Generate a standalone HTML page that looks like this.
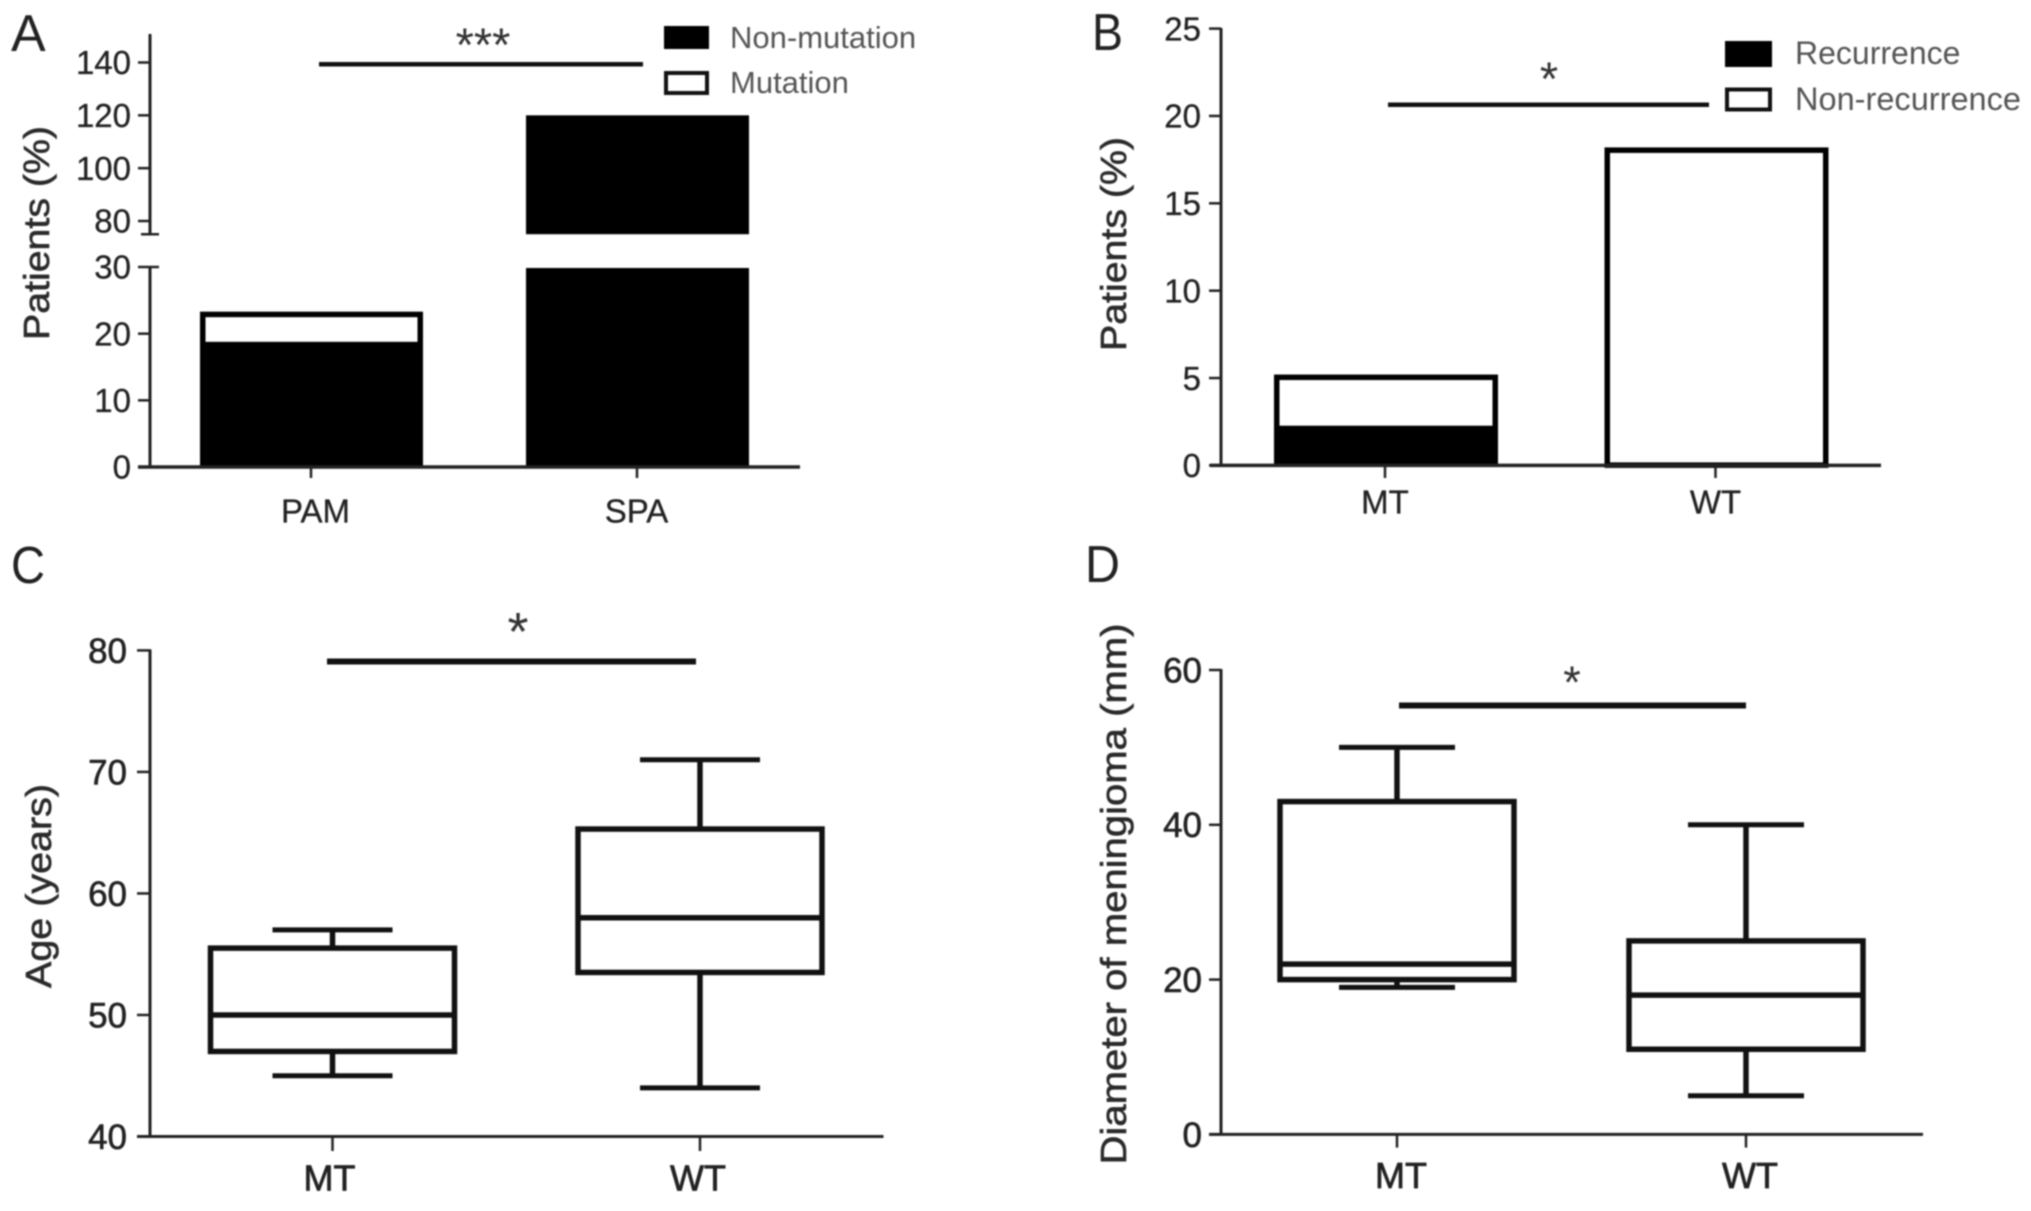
<!DOCTYPE html>
<html lang="en">
<head>
<meta charset="utf-8">
<title>Mutation charts</title>
<style>
html,body{margin:0;padding:0;background:#fff;width:2031px;height:1211px;overflow:hidden}
svg{display:block;filter:blur(0.8px)}
text{font-family:"Liberation Sans",sans-serif}
</style>
</head>
<body>
<svg id="figure" width="2031" height="1211" viewBox="0 0 2031 1211" xmlns="http://www.w3.org/2000/svg">
<rect width="2031" height="1211" fill="#fff"/>

<g fill="#222" font-size="52">
<text x="11" y="51">A</text>
<text x="1092" y="50" textLength="31" lengthAdjust="spacingAndGlyphs">B</text>
<text x="11" y="583" textLength="34" lengthAdjust="spacingAndGlyphs">C</text>
<text x="1085" y="582" textLength="35" lengthAdjust="spacingAndGlyphs">D</text>
</g>

<g fill="#2a2a2a" stroke="#2a2a2a" stroke-width="0.6" font-size="36">
<text transform="translate(49,233) rotate(-90)" text-anchor="middle" textLength="214" lengthAdjust="spacingAndGlyphs">Patients (%)</text>
<text transform="translate(1126,244) rotate(-90)" text-anchor="middle" textLength="214" lengthAdjust="spacingAndGlyphs">Patients (%)</text>
<text transform="translate(51,886) rotate(-90)" text-anchor="middle" textLength="204" lengthAdjust="spacingAndGlyphs">Age (years)</text>
<text transform="translate(1126,894) rotate(-90)" text-anchor="middle" textLength="541" lengthAdjust="spacingAndGlyphs">Diameter of meningioma (mm)</text>
</g>

<g>
<rect x="319" y="62" width="324" height="4.5" fill="#111"/>
<text x="483" y="61" text-anchor="middle" font-size="47" fill="#333">***</text>
<rect x="1388" y="102.5" width="321" height="4.5" fill="#111"/>
<text x="1549" y="95" text-anchor="middle" font-size="47" fill="#333">*</text>
<rect x="327" y="658.5" width="369" height="6" fill="#111"/>
<text x="518" y="650" text-anchor="middle" font-size="54" fill="#333">*</text>
<rect x="1399" y="702.5" width="347" height="6" fill="#111"/>
<text x="1572" y="698" text-anchor="middle" font-size="45" fill="#333">*</text>
</g>

<g font-size="31" fill="#555">
<rect x="664" y="26" width="45" height="23" fill="#000"/>
<text x="730" y="48">Non-mutation</text>
<rect x="666" y="73" width="41" height="20" fill="#fff" stroke="#111" stroke-width="4"/>
<text x="730" y="93">Mutation</text>
</g>
<g font-size="32" fill="#555">
<rect x="1725" y="41" width="47" height="26" fill="#000"/>
<text x="1795" y="64">Recurrence</text>
<rect x="1727" y="89.5" width="43" height="20" fill="#fff" stroke="#111" stroke-width="4"/>
<text x="1795" y="110" textLength="226" lengthAdjust="spacingAndGlyphs">Non-recurrence</text>
</g>
</svg>

<script>
/* Panel A */
const aCategories = ['PAM', 'SPA'];
const aNonMutation = [18.4, 120];
const aMutation = [4.9, 0];
const aTicksLow = [0, 10, 20, 30];
const aTicksHigh = [80, 100, 120, 140];
/* Panel B */
const bCategories = ['MT', 'WT'];
const bRecurrence = [2.1, 0];
const bNonRecurrence = [3.1, 18.2];
const bTicks = [0, 5, 10, 15, 20, 25];
/* Panel C */
const cCategories = ['MT', 'WT'];
const cMin = [45, 44];
const cQ1 = [47, 53.5];
const cMedian = [50, 58];
const cQ3 = [55.5, 65.3];
const cMax = [57, 71];
const cTicks = [40, 50, 60, 70, 80];
/* Panel D */
const dCategories = ['MT', 'WT'];
const dMin = [19, 5];
const dQ1 = [20, 11];
const dMedian = [22, 18];
const dQ3 = [43, 25];
const dMax = [50, 40];
const dTicks = [0, 20, 40, 60];

const NS = 'http://www.w3.org/2000/svg';
const svg = document.getElementById('figure');

function group(name) {
  const g = document.createElementNS(NS, 'g');
  
  
  svg.appendChild(g);
  return g;
}
function line(p, x1, y1, x2, y2, w, color, name) {
  const n = document.createElementNS(NS, 'line');
  n.setAttribute('x1', x1);
  n.setAttribute('y1', y1);
  n.setAttribute('x2', x2);
  n.setAttribute('y2', y2);
  n.setAttribute('stroke', color);
  n.setAttribute('stroke-width', w);
  
  
  p.appendChild(n);
  return n;
}
function label(p, x, y, str, size, anchor, color, weight, name) {
  const n = document.createElementNS(NS, 'text');
  n.setAttribute('x', x);
  n.setAttribute('y', y + size * 0.355);
  n.setAttribute('font-size', size);
  n.setAttribute('text-anchor', anchor);
  n.setAttribute('fill', color);
  n.setAttribute('stroke', color);
  n.setAttribute('stroke-width', weight);
  n.textContent = str;
  
  
  p.appendChild(n);
  return n;
}
function filled(p, x0, x1, yTop, yBottom, name) {
  const n = document.createElementNS(NS, 'rect');
  n.setAttribute('x', x0);
  n.setAttribute('y', yTop);
  n.setAttribute('width', x1 - x0);
  n.setAttribute('height', Math.max(0, yBottom - yTop));
  n.setAttribute('fill', '#000');
  
  
  p.appendChild(n);
  return n;
}
function outlined(p, x0, x1, yTop, yBottom, sw, name) {
  const n = document.createElementNS(NS, 'rect');
  n.setAttribute('x', x0 + sw / 2);
  n.setAttribute('y', yTop + sw / 2);
  n.setAttribute('width', x1 - x0 - sw);
  n.setAttribute('height', Math.max(0, yBottom - yTop - sw));
  n.setAttribute('fill', '#fff');
  n.setAttribute('stroke', '#000');
  n.setAttribute('stroke-width', sw);
  
  
  p.appendChild(n);
  return n;
}
function linear(d0, d1, r0, r1) {
  return function (v) { return r0 + (v - d0) * (r1 - r0) / (d1 - d0); };
}

/* ---------- Panel A ---------- */
(function () {
  const g = group('chart-a');
  const yLow = linear(0, 30, 467, 267);
  const yHigh = linear(80, 140, 221, 62.5);
  const breakLow = 30;
  const breakHigh = 75;
  const y = function (v) { return v <= breakLow ? yLow(v) : yHigh(v); };
  const x = linear(0, 1, 311.5, 637.5);
  const half = 111.5;
  const labelOffsets = [4, -1];
  aCategories.forEach(function (c, i) {
    const x0 = x(i) - half;
    const x1 = x(i) + half;
    const black = aNonMutation[i];
    const total = black + aMutation[i];
    filled(g, x0, x1, y(Math.min(black, breakLow)) + 1, yLow(0), 'bar-non-mutation-' + c);
    if (black > breakLow) {
      filled(g, x0, x1, yHigh(black), yHigh(breakHigh), 'bar-non-mutation-upper-' + c);
    }
    if (aMutation[i] > 0) {
      outlined(g, x0, x1, y(total), y(black) + 3, 5.5, 'bar-mutation-' + c);
    }
    line(g, x(i) - 0.5, yLow(0), x(i) - 0.5, 478, 2.5, '#222', 'x-tick-a-' + c);
    label(g, x(i) + labelOffsets[i], 511, c, 33, 'middle', '#222', 0.3, 'x-tick-label-a-' + c);
  });
  line(g, 150, 34, 150, yHigh(breakHigh) + 1, 3, '#222', 'y-axis-a-upper');
  line(g, 150, yLow(30), 150, yLow(0), 3, '#222', 'y-axis-a-lower');
  line(g, 138, yLow(0), 800, yLow(0), 3.5, '#222', 'x-axis-a');
  line(g, 141, yHigh(breakHigh), 159, yHigh(breakHigh), 2.5, '#222', 'y-axis-break-top');
  aTicksLow.forEach(function (t) {
    const end = t === breakLow ? 159 : 150;
    line(g, 138, yLow(t), end, yLow(t), 2.5, '#222', 'y-tick-a-' + t);
    label(g, 131, yLow(t), String(t), 33, 'end', '#222', 0.3, 'y-tick-label-a-' + t);
  });
  aTicksHigh.forEach(function (t) {
    line(g, 138, yHigh(t), 150, yHigh(t), 2.5, '#222', 'y-tick-a-' + t);
    label(g, 131, yHigh(t), String(t), 33, 'end', '#222', 0.3, 'y-tick-label-a-' + t);
  });
})();

/* ---------- Panel B ---------- */
(function () {
  const g = group('chart-b');
  const y = linear(0, 25, 465.4, 28.6);
  const x = linear(0, 1, 1386, 1716.5);
  const half = 112;
  bCategories.forEach(function (c, i) {
    const x0 = x(i) - half;
    const x1 = x(i) + half;
    const total = bRecurrence[i] + bNonRecurrence[i];
    outlined(g, x0, x1, y(total), y(bRecurrence[i]) + 2.5, 5.5, 'bar-non-recurrence-' + c);
    if (bRecurrence[i] > 0) {
      filled(g, x0, x1, y(bRecurrence[i]), y(0), 'bar-recurrence-' + c);
    }
    line(g, x(i) - 1, y(0), x(i) - 1, 478, 2.5, '#222', 'x-tick-b-' + c);
    label(g, x(i) - 1, 502, c, 33, 'middle', '#222', 0.3, 'x-tick-label-b-' + c);
  });
  line(g, 1221, 28, 1221, y(0), 3, '#222', 'y-axis-b');
  line(g, 1210, y(0), 1881, y(0), 3.5, '#222', 'x-axis-b');
  bTicks.forEach(function (t) {
    line(g, 1209, y(t), 1221, y(t), 2.5, '#222', 'y-tick-b-' + t);
    label(g, 1201, y(t), String(t), 33, 'end', '#222', 0.3, 'y-tick-label-b-' + t);
  });
})();

/* ---------- Box-plot panels ---------- */
function boxPanel(name, cats, mins, q1s, meds, q3s, maxs, ticks, y, x, boxHalf, capHalf, axisX, axisLeft, axisRight, tickBottom, labelY, labelRight, labelOffsets) {
  const g = group('chart-' + name);
  cats.forEach(function (c, i) {
    const cx = x(i);
    line(g, cx, y(maxs[i]), cx, y(q3s[i]), 5.5, '#111', 'whisker-upper-' + name + '-' + c);
    line(g, cx, y(q1s[i]), cx, y(mins[i]), 5.5, '#111', 'whisker-lower-' + name + '-' + c);
    line(g, cx - capHalf, y(maxs[i]), cx + capHalf, y(maxs[i]), 5, '#111', 'cap-upper-' + name + '-' + c);
    line(g, cx - capHalf, y(mins[i]), cx + capHalf, y(mins[i]), 5, '#111', 'cap-lower-' + name + '-' + c);
    const box = document.createElementNS(NS, 'rect');
    box.setAttribute('x', cx - boxHalf);
    box.setAttribute('y', y(q3s[i]));
    box.setAttribute('width', boxHalf * 2);
    box.setAttribute('height', y(q1s[i]) - y(q3s[i]));
    box.setAttribute('fill', 'none');
    box.setAttribute('stroke', '#111');
    box.setAttribute('stroke-width', 5.5);
    
    
    g.appendChild(box);
    line(g, cx - boxHalf, y(meds[i]), cx + boxHalf, y(meds[i]), 5.5, '#111', 'median-' + name + '-' + c);
    line(g, cx, y(ticks[0]), cx, tickBottom, 2.5, '#222', 'x-tick-' + name + '-' + c);
    label(g, cx + labelOffsets[i], labelY, c, 36, 'middle', '#222', 0.7, 'x-tick-label-' + name + '-' + c);
  });
  line(g, axisX, y(ticks[ticks.length - 1]) - 1, axisX, y(ticks[0]), 3, '#222', 'y-axis-' + name);
  line(g, axisLeft, y(ticks[0]), axisRight, y(ticks[0]), 3, '#222', 'x-axis-' + name);
  ticks.forEach(function (t) {
    line(g, axisLeft, y(t), axisX, y(t), 2.5, '#222', 'y-tick-' + name + '-' + t);
    label(g, labelRight, y(t), String(t), 35, 'end', '#222', 0.6, 'y-tick-label-' + name + '-' + t);
  });
}
boxPanel('c', cCategories, cMin, cQ1, cMedian, cQ3, cMax, cTicks,
  linear(40, 80, 1136.5, 650.4), linear(0, 1, 332.5, 700),
  122, 60, 150, 137, 883.5, 1151, 1177.6, 127, [-3, -2]);
boxPanel('d', dCategories, dMin, dQ1, dMedian, dQ3, dMax, dTicks,
  linear(0, 60, 1134.4, 670), linear(0, 1, 1397, 1746),
  117, 58, 1221, 1209, 1923, 1147.6, 1175, 1202, [4, 4]);
</script>
</body>
</html>
